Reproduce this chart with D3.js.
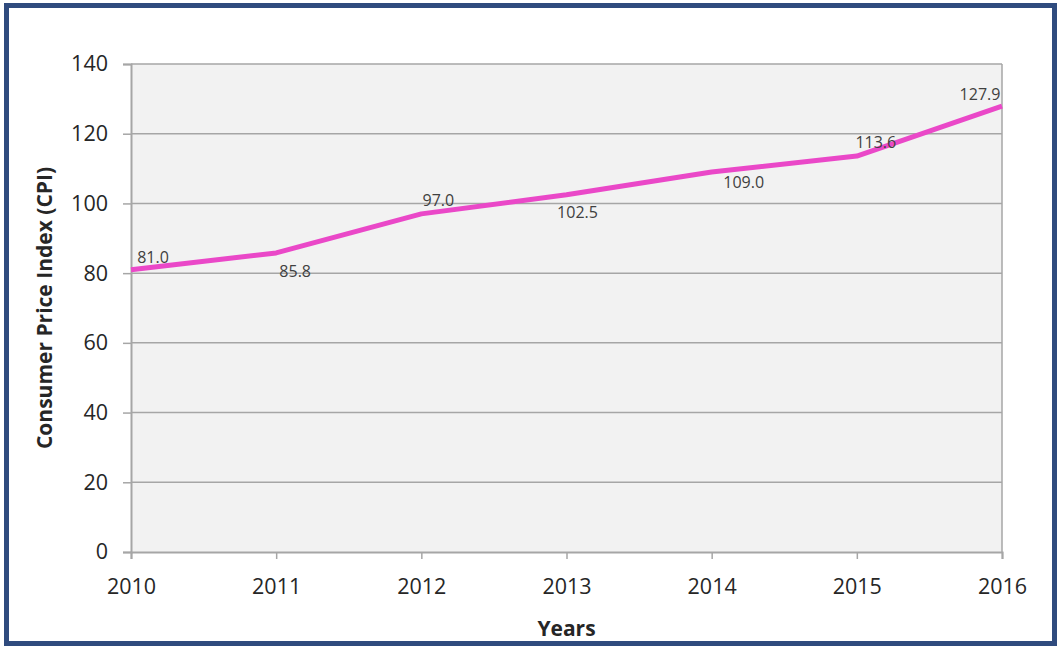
<!DOCTYPE html>
<html>
<head>
<meta charset="utf-8">
<script src="https://cdn.jsdelivr.net/npm/d3@7"></script>
<style>
  body { margin: 0; background: #fff; }
  svg { display: block; font-family: "Open Sans", "Noto Sans", sans-serif; }
</style>
</head>
<body>
<div id="chart"></div>
<script>
var years = [2010, 2011, 2012, 2013, 2014, 2015, 2016];
var cpi = [81.0, 85.8, 97.0, 102.5, 109.0, 113.6, 127.9];
var yTicks = [0, 20, 40, 60, 80, 100, 120, 140];
// label nudges (dx, dy) from each point, as in the original layout
var labelShift = [[22, -7], [19, 24], [17, -8], [11, 23], [32, 16], [19, -8], [-22, -6]];

var width = 1060, height = 647;
var margin = {top: 64, right: 58, bottom: 95, left: 131};

var svg = d3.select('#chart').append('svg')
  .attr('width', width)
  .attr('height', height);

// outer frame
svg.append('rect')
  .attr('x', 6.5).attr('y', 5.5)
  .attr('width', width - 12).attr('height', height - 9)
  .style('fill', 'none')
  .style('stroke', '#2f4b7e')
  .style('stroke-width', 5);

var x = d3.scalePoint()
  .domain(years)
  .range([margin.left, width - margin.right]);

var y = d3.scaleLinear()
  .domain([0, 140])
  .range([height - margin.bottom, margin.top]);

svg.append('rect')
  .attr('x', margin.left).attr('y', margin.top)
  .attr('width', width - margin.right - margin.left)
  .attr('height', height - margin.bottom - margin.top)
  .style('fill', '#f2f2f2');

// gridlines
svg.append('g')
  .selectAll('line')
  .data(yTicks.slice(1))
  .join('line')
  .attr('x1', margin.left).attr('x2', width - margin.right)
  .attr('y1', function(d) { return y(d); })
  .attr('y2', function(d) { return y(d); })
  .style('stroke', '#a6a6a6')
  .style('stroke-width', 1.5);

// right edge of plot
svg.append('line')
  .attr('x1', width - margin.right).attr('x2', width - margin.right)
  .attr('y1', margin.top).attr('y2', height - margin.bottom)
  .style('stroke', '#a6a6a6')
  .style('stroke-width', 1.5);

var yAxis = svg.append('g')
  .attr('transform', 'translate(' + margin.left + ',0)')
  .call(d3.axisLeft(y).tickValues(yTicks).tickSize(8).tickPadding(15));

var xAxis = svg.append('g')
  .attr('transform', 'translate(0,' + (height - margin.bottom) + ')')
  .call(d3.axisBottom(x).tickSize(7).tickPadding(20).tickFormat(d3.format('d')));

[yAxis, xAxis].forEach(function(a) {
  a.attr('font-family', null).attr('font-size', null);
  a.select('.domain').style('stroke', '#a6a6a6').style('stroke-width', 2);
  a.selectAll('.tick line').style('stroke', '#a6a6a6').style('stroke-width', 1.5);
  a.selectAll('.tick text')
    .style('font-size', '21.5px')
    .style('fill', '#262626');
});

var line = d3.line()
  .x(function(d, i) { return x(years[i]); })
  .y(function(d) { return y(d); });

svg.append('path')
  .datum(cpi)
  .attr('d', line)
  .style('fill', 'none')
  .style('stroke', '#ea48c8')
  .style('stroke-width', 5)
  .style('stroke-linejoin', 'round');

svg.append('g')
  .selectAll('text')
  .data(cpi)
  .join('text')
  .attr('x', function(d, i) { return x(years[i]) + labelShift[i][0]; })
  .attr('y', function(d, i) { return y(d) + labelShift[i][1]; })
  .attr('text-anchor', 'middle')
  .style('font-size', '16px')
  .style('fill', '#404040')
  .text(function(d) { return d.toFixed(1); });

svg.append('text')
  .attr('x', (margin.left + width - margin.right) / 2)
  .attr('y', 636)
  .attr('text-anchor', 'middle')
  .style('font-size', '21px')
  .style('font-weight', 'bold')
  .style('fill', '#262626')
  .text('Years');

svg.append('text')
  .attr('transform', 'translate(52,' + ((margin.top + height - margin.bottom) / 2) + ') rotate(-90)')
  .attr('text-anchor', 'middle')
  .style('font-size', '21px')
  .style('font-weight', 'bold')
  .style('fill', '#262626')
  .text('Consumer Price Index (CPI)');
</script>
</body>
</html>
